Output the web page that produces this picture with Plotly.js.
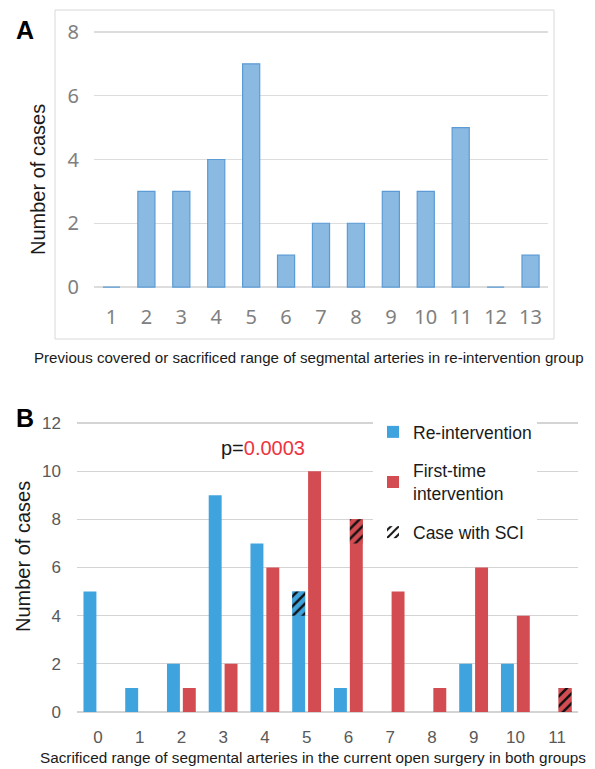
<!DOCTYPE html>
<html>
<head>
<meta charset="utf-8">
<script src="https://cdn.plot.ly/plotly-3.0.1.min.js"></script>
<style>html,body{margin:0;padding:0;background:#fff;}#chart{width:595px;height:769px;}</style>
</head>
<body>
<div id="chart"></div>
<script>
// ---- Panel A data ----
const catsA = ["1","2","3","4","5","6","7","8","9","10","11","12","13"];
const casesA = [0,3,3,4,7,1,2,2,3,3,5,0,1];

// ---- Panel B data ----
const catsB = ["0","1","2","3","4","5","6","7","8","9","10","11"];
const reIntervention = [5,1,2,9,7,5,1,0,0,2,2,0];
const firstTime = [0,0,1,2,6,10,8,5,1,6,4,1];
const sciRe = [0,0,0,0,0,1,0,0,0,0,0,0];
const sciFirst = [0,0,0,0,0,0,1,0,0,0,0,1];

const ticksA = ["0","2","4","6","8"];
const ticksB = ["0","2","4","6","8","10","12"];

const W = 595, H = 769;
const px = x => x / W;
const py = y => 1 - y / H;

const blue = "#3FA4DD", red = "#D34C52";

function sciBase(total, sci) { return total.map((t, i) => sci[i] > 0 ? t - sci[i] : null); }
function sciVals(sci) { return sci.map(s => s > 0 ? s : null); }

const traces = [
  {
    type: "bar", x: catsA, y: casesA, xaxis: "x", yaxis: "y",
    width: 0.49, showlegend: false, hoverinfo: "x+y",
    marker: { color: "#8AB9E1", line: { color: "#5B9BD5", width: 1.2 } }
  },
  {
    type: "bar", name: "Re-intervention", x: catsB, y: reIntervention, xaxis: "x2", yaxis: "y2",
    width: 0.31, offset: -0.345, legendgroup: "g1", legendrank: 1,
    marker: { color: blue, line: { width: 0 } }
  },
  {
    type: "bar", name: "First-time<br>intervention", x: catsB, y: firstTime, xaxis: "x2", yaxis: "y2",
    width: 0.31, offset: 0.035, legendgroup: "g2", legendrank: 2,
    marker: { color: red, line: { width: 0 } }
  },
  {
    type: "bar", x: catsB, y: sciVals(sciRe), base: sciBase(reIntervention, sciRe), xaxis: "x2", yaxis: "y2",
    width: 0.31, offset: -0.345, showlegend: false, legendgroup: "g3",
    marker: { color: blue, line: { width: 0 }, pattern: { shape: "/", fgcolor: "#111", bgcolor: blue, size: 7, solidity: 0.35 } }
  },
  {
    type: "bar", x: catsB, y: sciVals(sciFirst), base: sciBase(firstTime, sciFirst), xaxis: "x2", yaxis: "y2",
    width: 0.31, offset: 0.035, showlegend: false, legendgroup: "g3",
    marker: { color: red, line: { width: 0 }, pattern: { shape: "/", fgcolor: "#111", bgcolor: red, size: 7, solidity: 0.35 } }
  },
  {
    type: "bar", name: "Case with SCI", x: [catsB[0]], y: [null], xaxis: "x2", yaxis: "y2",
    legendgroup: "g3", legendrank: 3, showlegend: true,
    marker: { color: "#ffffff", line: { width: 0 }, pattern: { shape: "/", fgcolor: "#111", bgcolor: "#ffffff", size: 7, solidity: 0.35 } }
  }
];

const layout = {
  width: W, height: H,
  margin: { l: 0, r: 0, t: 0, b: 0 },
  paper_bgcolor: "#fff", plot_bgcolor: "rgba(0,0,0,0)",
  barmode: "overlay",
  font: { family: "Liberation Sans, Arial, sans-serif", color: "#1a1a1a" },
  showlegend: true,
  legend: {
    x: px(373), y: py(414), xanchor: "left", yanchor: "top",
    bgcolor: "#ffffff", borderwidth: 0,
    font: { size: 17.5, color: "#1a1a1a" },
    traceorder: "grouped", tracegroupgap: 13, itemwidth: 30
  },
  xaxis: {
    domain: [px(94), px(548)], anchor: "y", type: "category",
    range: [-0.5, 12.5], showgrid: false, zeroline: false, showline: false, ticks: "",
    tickfont: { size: 20, color: "#808080", family: "Noto Sans, Open Sans, sans-serif" },
    ticklabelstandoff: 6
  },
  yaxis: {
    domain: [py(296.6), py(22.4)], anchor: "x",
    range: [-0.3, 8.3], tickvals: ticksA.map(Number), ticktext: ticksA,
    showgrid: true, gridcolor: "#DDDDDD", gridwidth: 1.2, zeroline: false, showline: false, ticks: "",
    tickfont: { size: 20, color: "#808080", family: "Noto Sans, Open Sans, sans-serif" },
    ticklabelstandoff: 14
  },
  xaxis2: {
    domain: [px(77), px(578)], anchor: "y2", type: "category",
    range: [-0.5, 11.5], showgrid: false, zeroline: false, showline: false, ticks: "",
    tickfont: { size: 17, color: "#595959" },
    ticklabelstandoff: 6
  },
  yaxis2: {
    domain: [py(719.2), py(415.8)], anchor: "x2",
    range: [-0.3, 12.3], tickvals: ticksB.map(Number), ticktext: ticksB,
    showgrid: true, gridcolor: "#D4D4D4", gridwidth: 1.2, zeroline: false, showline: false, ticks: "",
    tickfont: { size: 17, color: "#595959" },
    ticklabelstandoff: 15
  },
  shapes: [
    { type: "rect", xref: "paper", yref: "paper", x0: px(55), x1: px(554), y0: py(339), y1: py(10),
      line: { color: "#D9D9D9", width: 1 }, fillcolor: "rgba(0,0,0,0)", layer: "below" }
  ],
  annotations: [
    { text: "<b>A</b>", xref: "paper", yref: "paper", x: px(25), y: py(30), xanchor: "center", yanchor: "middle", showarrow: false,
      font: { size: 25, color: "#000", family: "Liberation Sans, Arial, sans-serif" } },
    { text: "<b>B</b>", xref: "paper", yref: "paper", x: px(25), y: py(418), xanchor: "center", yanchor: "middle", showarrow: false,
      font: { size: 25, color: "#000", family: "Liberation Sans, Arial, sans-serif" } },
    { text: "Number of cases", xref: "paper", yref: "paper", x: px(38), y: py(180), textangle: -90,
      xanchor: "center", yanchor: "middle", showarrow: false, font: { size: 20, color: "#1a1a1a" } },
    { text: "Number of cases", xref: "paper", yref: "paper", x: px(23), y: py(557), textangle: -90,
      xanchor: "center", yanchor: "middle", showarrow: false, font: { size: 20, color: "#1a1a1a" } },
    { text: "Previous covered or sacrificed range of segmental arteries in re-intervention group",
      xref: "paper", yref: "paper", x: px(309), y: py(357), xanchor: "center", yanchor: "middle", showarrow: false,
      font: { size: 15.1, color: "#1a1a1a" } },
    { text: "Sacrificed range of segmental arteries in the current open surgery in both groups",
      xref: "paper", yref: "paper", x: px(313), y: py(757), xanchor: "center", yanchor: "middle", showarrow: false,
      font: { size: 15.3, color: "#1a1a1a" } },
    { text: "p=<span style=\"color:#EE3340\">0.0003</span>", xref: "paper", yref: "paper",
      x: px(263), y: py(448), xanchor: "center", yanchor: "middle", showarrow: false, font: { size: 20, color: "#1a1a1a" } }
  ]
};

Plotly.newPlot("chart", traces, layout, { displayModeBar: false, staticPlot: true });
</script>
</body>
</html>
